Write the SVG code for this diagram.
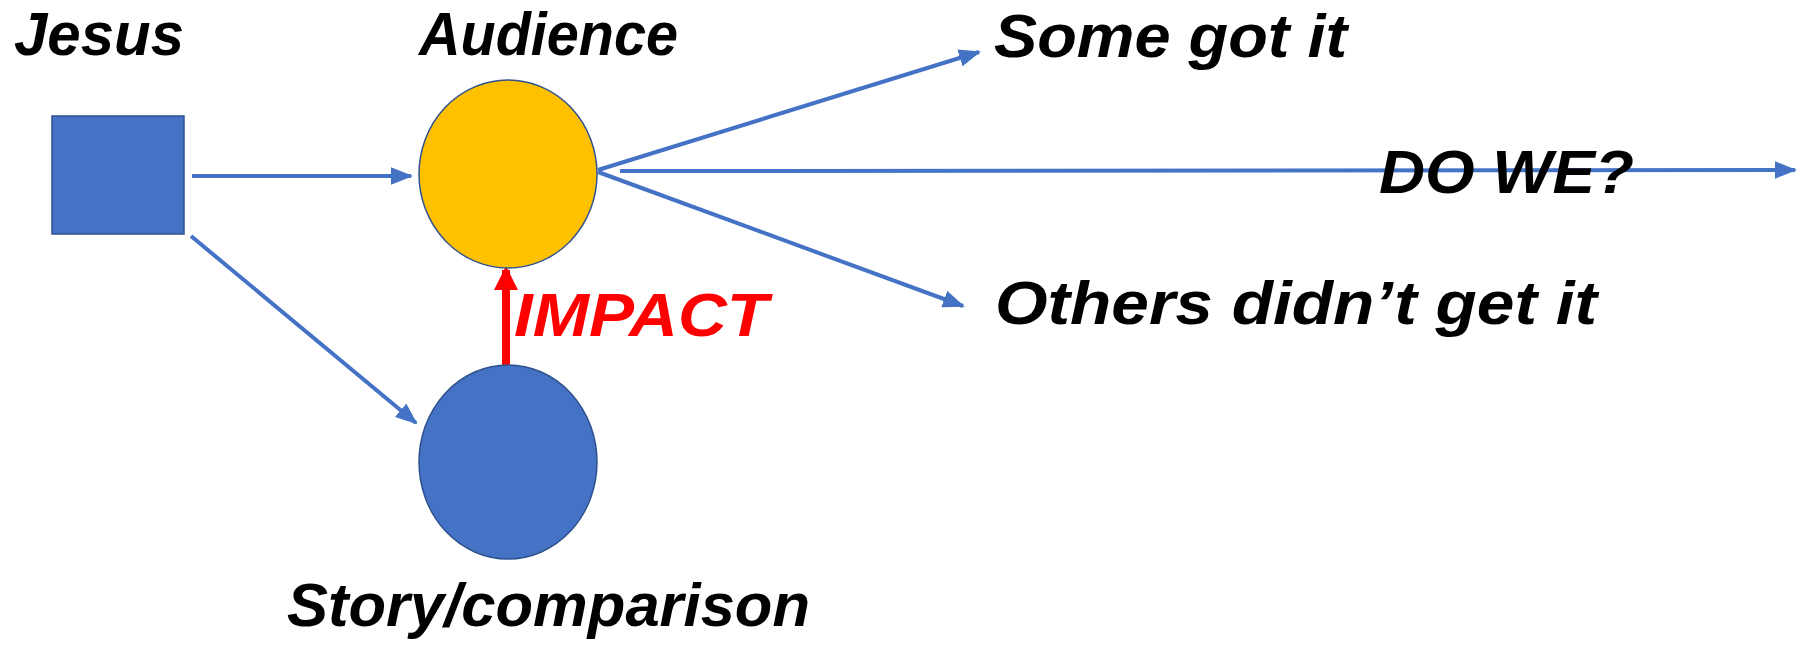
<svg xmlns="http://www.w3.org/2000/svg" width="1802" height="646" viewBox="0 0 1802 646">
<style>
.t{font-family:"Comic Sans MS","Liberation Sans",sans-serif;font-weight:bold;font-style:italic;font-size:62px;fill:#000}
.red{fill:#FF0000}
.c{stroke:#4472C4;stroke-width:4;fill:none}
</style>
<defs>
<marker id="ab" markerWidth="5.5" markerHeight="4.4" refX="5" refY="2.2" orient="auto" markerUnits="strokeWidth">
<path d="M0,0 L5.5,2.2 L0,4.4 Z" fill="#4472C4"/>
</marker>
<marker id="ar" markerWidth="3" markerHeight="3" refX="2.5" refY="1.5" orient="auto" markerUnits="strokeWidth">
<path d="M0,0 L3,1.5 L0,3 Z" fill="#FF0000"/>
</marker>
</defs>
<rect width="1802" height="646" fill="#fff"/>
<g id="connectors">
<line class="c" x1="192" y1="176" x2="411" y2="176" marker-end="url(#ab)"/>
<line class="c" x1="191" y1="236" x2="416" y2="423" marker-end="url(#ab)"/>
<line class="c" x1="598" y1="170" x2="979" y2="52" marker-end="url(#ab)"/>
<line class="c" x1="598" y1="172" x2="963" y2="306" marker-end="url(#ab)"/>
<line class="c" x1="620" y1="171" x2="1795" y2="170" marker-end="url(#ab)"/>
<line x1="506" y1="368" x2="506" y2="270" stroke="#FF0000" stroke-width="8" marker-end="url(#ar)"/>
</g>
<g id="jesus">
<rect x="52" y="116" width="132" height="118" fill="#4472C4" stroke="#2F528F" stroke-width="1.5"/>
<text class="t" x="14" y="55" textLength="170" lengthAdjust="spacingAndGlyphs">Jesus</text>
</g>
<g id="audience">
<ellipse cx="508" cy="174" rx="89" ry="94" fill="#FFC000" stroke="#2F528F" stroke-width="1.5"/>
<text class="t" x="419" y="55" textLength="259" lengthAdjust="spacingAndGlyphs">Audience</text>
</g>
<g id="story">
<ellipse cx="508" cy="462" rx="89" ry="97" fill="#4472C4" stroke="#2F528F" stroke-width="1.5"/>
<text class="t" x="287" y="626" textLength="523" lengthAdjust="spacingAndGlyphs">Story/comparison</text>
</g>
<g id="impact">
<text class="t red" x="514" y="336" textLength="254" lengthAdjust="spacingAndGlyphs">IMPACT</text>
</g>
<g id="some">
<text class="t" x="994" y="57" textLength="353" lengthAdjust="spacingAndGlyphs">Some got it</text>
</g>
<g id="others">
<text class="t" x="995" y="324" textLength="602" lengthAdjust="spacingAndGlyphs">Others didn’t get it</text>
</g>
<g id="dowe">
<text class="t" x="1379" y="193" textLength="255" lengthAdjust="spacingAndGlyphs">DO WE?</text>
</g>
</svg>
